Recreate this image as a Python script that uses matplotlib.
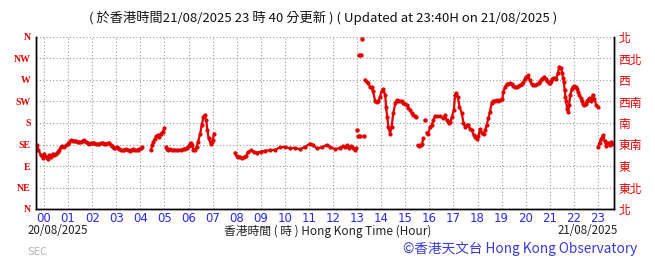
"""
Wind direction over the last 24 hours, Hong Kong Observatory style chart.
"""

import numpy as np
import matplotlib.pyplot as plt

plt.rcParams['font.family'] = ['Noto Sans CJK TC', 'DejaVu Sans']

# minutes after 00:00 on 20/08/2025 and wind direction (degrees), one list pair per unbroken run
seg_a_min = [-20, -17, -14, -8, -3, 1, 5, 9, 13, 17, 22, 26, 30, 34, 38, 42, 46, 51, 55, 59,
             63, 67, 72, 76, 80, 84, 88, 92, 96, 100, 105, 109, 113, 117, 121, 125, 130, 134, 138, 142,
             146, 150, 155, 159, 163, 166, 169, 172, 175, 178, 181, 184, 188, 192, 196, 200, 204, 208, 213, 217,
             221, 225, 229, 233, 237, 241, 244]
seg_a_dir = [135, 133, 124, 113, 106, 116, 109, 104, 113, 109, 116, 113, 116, 120, 123, 130, 131, 130, 133, 137,
             141, 144, 143, 143, 142, 141, 140, 141, 143, 144, 141, 139, 137, 138, 139, 138, 136, 136, 137, 138,
             139, 137, 137, 138, 139, 135, 132, 129, 127, 128, 130, 128, 125, 124, 123, 124, 125, 123, 122, 124,
             125, 124, 123, 124, 125, 127, 129]

seg_b_min = [266, 270, 272, 276, 280, 283, 287, 291, 296, 300]
seg_b_dir = [124, 133, 141, 147, 152, 155, 150, 158, 162, 169]

seg_c_min = [304, 307, 310, 315, 320, 325, 330, 335, 340, 345, 350, 355, 360, 363, 365, 368,
             372, 376, 380, 384, 389, 393, 397, 400, 404, 407, 410, 415, 418, 420, 424]
seg_c_dir = [130, 126, 124, 125, 124, 124, 123, 124, 124, 125, 126, 128, 131, 136, 139, 134,
             124, 123, 130, 141, 158, 176, 193, 197, 186, 165, 148, 137, 140, 144, 158]

seg_d_min = [476, 480, 484, 488, 492, 497, 503, 509, 515, 522, 530, 540, 550, 563, 575, 588, 600, 613, 625,
             638, 650, 663, 671, 679, 692, 704, 713, 725, 737, 745, 750, 755, 761, 765, 770, 775, 778]
seg_d_dir = [118, 110, 109, 108, 107, 108, 111, 120, 123, 120, 118, 120, 122, 123, 124, 129, 130, 127, 128,
             125, 130, 137, 134, 127, 129, 134, 130, 125, 128, 131, 130, 133, 127, 131, 127, 124, 127]

# scattered readings just after 13:00 and near 15:50
dots_min = [779, 783, 786, 784, 789, 792, 796, 949]
dots_dir = [165, 153, 153, 322, 322, 355, 153, 186]

seg_e_min = [800, 804, 808, 812, 816, 820, 825, 829, 833, 837, 841, 845, 850, 852, 855, 858, 862,
             866, 870, 875, 879, 883, 887, 891, 895, 900, 904, 908, 912, 916, 920, 924, 927]
seg_e_dir = [271, 266, 263, 256, 255, 246, 225, 223, 225, 235, 246, 251, 239, 214, 193, 172, 158,
             172, 200, 221, 228, 227, 226, 225, 222, 220, 218, 212, 207, 201, 197, 194, 192]

seg_f_min = [931, 935, 939, 942, 945]
seg_f_dir = [133, 132, 135, 137, 148]

seg_g_min = [953, 957, 962, 966, 970, 974, 980, 987, 995, 999, 1003, 1008, 1012, 1016, 1021, 1024, 1027,
             1031, 1035, 1041, 1045, 1049, 1053, 1057, 1061, 1066, 1070, 1074, 1078, 1082, 1086, 1090, 1095,
             1099, 1103, 1107, 1111, 1115, 1119, 1124, 1128, 1132, 1136, 1142, 1144, 1149, 1153, 1157, 1161,
             1165, 1169, 1173, 1178, 1182, 1186, 1190, 1194, 1198, 1201, 1205, 1210, 1215, 1219, 1224, 1228,
             1232, 1236, 1240, 1246, 1250, 1253, 1257, 1260, 1263, 1266, 1271, 1276, 1280, 1284, 1288, 1291,
             1293, 1295, 1297, 1299, 1301, 1303, 1306, 1308, 1311, 1315, 1318, 1321, 1325, 1328, 1331, 1334,
             1337, 1340, 1343, 1346, 1349, 1352, 1355, 1359, 1363, 1367, 1371, 1376, 1379]
seg_g_dir = [160, 158, 172, 175, 186, 194, 194, 194, 190, 196, 186, 179, 182, 192, 207, 238, 242,
             235, 214, 200, 179, 172, 175, 176, 168, 165, 155, 150, 147, 152, 167, 160, 157,
             165, 176, 190, 204, 221, 226, 227, 228, 227, 228, 231, 245, 256, 261, 262, 263,
             261, 258, 256, 255, 257, 259, 262, 266, 272, 277, 280, 270, 261, 260, 259, 261,
             263, 268, 273, 277, 272, 268, 264, 263, 268, 273, 275, 273, 284, 298, 295, 284,
             275, 266, 249, 235, 225, 210, 204, 217, 239, 252, 256, 258, 256, 252, 245, 239,
             232, 225, 220, 217, 220, 225, 229, 233, 225, 239, 231, 217, 214]

seg_h_min = [1380, 1384, 1388, 1393, 1397, 1401, 1405, 1409, 1413, 1417, 1420]
seg_h_dir = [130, 139, 147, 154, 142, 131, 139, 135, 141, 137, 138]

hour_labels = ['%02d' % h for h in range(24)]
left_labels = ['N', 'NE', 'E', 'SE', 'S', 'SW', 'W', 'NW', 'N']
right_labels = ['北', '東北', '東', '東南', '南', '西南', '西', '西北', '北']

RED = '#e00000'
W, H = 655, 259

fig = plt.figure(figsize=(W / 100, H / 100), dpi=100)
ax = fig.add_axes([36 / W, 50 / H, 578 / W, 172 / H])

segments = [(seg_a_min, seg_a_dir), (seg_b_min, seg_b_dir), (seg_c_min, seg_c_dir),
            (seg_d_min, seg_d_dir), (seg_e_min, seg_e_dir), (seg_f_min, seg_f_dir),
            (seg_g_min, seg_g_dir), (seg_h_min, seg_h_dir)]
for mins, dirs in segments:
    ax.plot(np.array(mins) / 60, dirs, color=RED, lw=1.6, marker='o', ms=2,
            mec=RED, mfc=RED, zorder=3)
ax.plot(np.array(dots_min) / 60, dots_dir, ls='none', marker='o', ms=2.2, color=RED, zorder=3)

ax.set_xlim(-1 / 3, 23 + 2 / 3)
ax.set_ylim(0, 360)
ax.set_xticks(range(24))
ax.set_xticklabels(hour_labels, color='#2828f0', fontsize=8.5, family='DejaVu Sans')
ax.set_yticks(range(0, 361, 45))
ax.set_yticklabels(left_labels, color=RED, fontsize=7, family='Liberation Serif', fontweight='bold')
ax.tick_params(axis='x', length=0, pad=2)
ax.tick_params(axis='y', length=0, pad=4)
ax.grid(color='#999999', linestyle=(0, (1, 2)), lw=0.8)

ax2 = ax.twinx()
ax2.set_ylim(0, 360)
ax2.set_yticks(range(0, 361, 45))
ax2.set_yticklabels(right_labels, color=RED, fontsize=8.5)
ax2.tick_params(axis='y', length=0, pad=3)

for a in (ax, ax2):
    a.spines['top'].set_visible(False)
    for s in ('left', 'right', 'bottom'):
        a.spines[s].set_color('black')
        a.spines[s].set_linewidth(1)

def ftext(x, y, s, **kw):
    fig.text(x / W, 1 - y / H, s, va='center', **kw)

ftext(323, 18, '( 於香港時間21/08/2025 23 時 40 分更新 ) ( Updated at 23:40H on 21/08/2025 )',
      ha='center', fontsize=9.5, color='#111111')
ftext(28, 231, '20/08/2025', ha='left', fontsize=8.3, color='#222222')
ftext(328, 231, '香港時間 ( 時 ) Hong Kong Time (Hour)', ha='center', fontsize=8.5, color='#222222')
ftext(618, 231, '21/08/2025', ha='right', fontsize=8.3, color='#222222')
ftext(403, 249, '©香港天文台 Hong Kong Observatory', ha='left', fontsize=9.8, color='#3a3ad8')
ftext(28, 252, 'SEC', ha='left', fontsize=8, color='#b4b4b4')

fig.savefig('out.png', dpi=100)
